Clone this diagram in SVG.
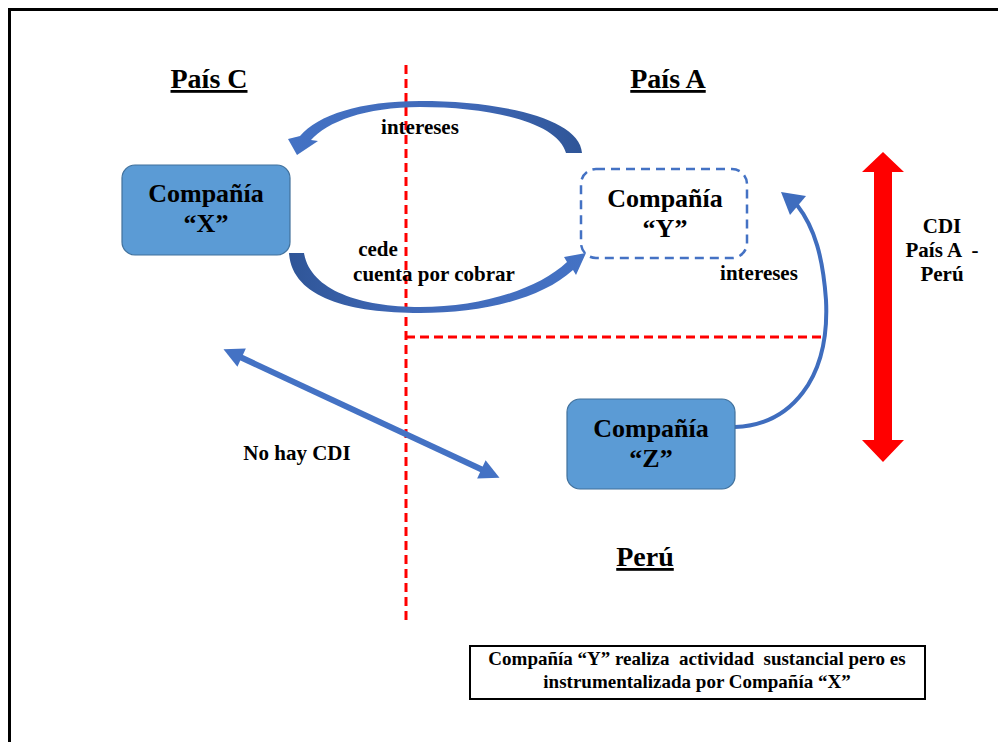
<svg xmlns="http://www.w3.org/2000/svg" width="998" height="742" viewBox="0 0 998 742">
<style>
  text { font-family: "Liberation Serif", "Times New Roman", serif; font-weight: bold; fill: #000; }
  .head { font-size: 28px; text-decoration: underline; }
  .box { font-size: 26px; }
  .lbl { font-size: 21px; }
  .note { font-size: 19px; white-space: pre; }
  .redline { stroke: #FF0000; stroke-width: 3; stroke-dasharray: 9 5; fill: none; }
  .solid { fill: #5B9BD5; stroke: #41719C; stroke-width: 1.2; }
</style>
<defs>
  <linearGradient id="gTop" x1="0" y1="0" x2="1" y2="0">
    <stop offset="0" stop-color="#4472C4"/>
    <stop offset="0.6" stop-color="#4069B8"/>
    <stop offset="1" stop-color="#2F5597"/>
  </linearGradient>
  <linearGradient id="gBot" x1="0" y1="0" x2="1" y2="0">
    <stop offset="0" stop-color="#2F5597"/>
    <stop offset="0.4" stop-color="#4069B8"/>
    <stop offset="1" stop-color="#4472C4"/>
  </linearGradient>
  <marker id="bh" viewBox="0 0 10 10" refX="2" refY="5" markerWidth="22" markerHeight="20" markerUnits="userSpaceOnUse" orient="auto-start-reverse">
    <path d="M0,0 L10,5 L0,10 Z" fill="#4472C4"/>
  </marker>
</defs>
<rect x="0" y="0" width="998" height="742" fill="#fff"/>
<rect x="9.5" y="9.5" width="1000" height="760" fill="none" stroke="#000" stroke-width="3"/>

<g id="dividers">
  <line class="redline" x1="406" y1="65" x2="406" y2="622"/>
  <line class="redline" x1="406" y1="337" x2="822" y2="337"/>
</g>

<g id="headings">
  <text class="head" x="209" y="88" text-anchor="middle">País C</text>
  <text class="head" x="668" y="88" text-anchor="middle">País A</text>
  <text class="head" x="645" y="566" text-anchor="middle">Perú</text>
</g>

<g id="connectors">
  <path id="arrow-intereses-top" fill="url(#gTop)" d="M582,153 C580,118 500,101 420,101 C360,101 318,115 300,136 L288,139 L297,155 L318,141 L311,140 C327,122 365,107 420,107 C490,107 558,122 566,153 Z"/>
  <path id="arrow-cede" fill="url(#gBot)" d="M289,253 C292,298 350,313 420,313 C480,313 540,300 573,270 L576,275 L586,253 L564,257 L567,262 C537,290 480,307 420,307 C360,307 310,290 304,253 Z"/>
  <path id="arrow-intereses-z" d="M735,427 C790,425 830,380 826,300 C823,258 815,228 797,205" fill="none" stroke="#3F6DBE" stroke-width="4"/>
  <polygon points="781,192 806,196 790,215" fill="#3F6DBE"/>
  <line id="arrow-nocdi" x1="238" y1="356" x2="485" y2="471" stroke="#4472C4" stroke-width="6" marker-start="url(#bh)" marker-end="url(#bh)"/>
  <polygon id="arrow-cdi" points="883,152 904,172 892,172 892,440 904,440 883,462 862,440 874,440 874,172 862,172" fill="#FF0000"/>
</g>

<g id="labels">
  <text class="lbl" x="420" y="134" text-anchor="middle">intereses</text>
  <text class="lbl" x="378" y="256" text-anchor="middle">cede</text>
  <text class="lbl" x="434" y="281" text-anchor="middle">cuenta por cobrar</text>
  <text class="lbl" x="759" y="280" text-anchor="middle">intereses</text>
  <text class="lbl" x="297" y="460" text-anchor="middle">No hay CDI</text>
  <text class="lbl" x="942" y="233" text-anchor="middle">CDI</text>
  <text class="lbl" x="942" y="257" text-anchor="middle" style="white-space:pre">País A  -</text>
  <text class="lbl" x="942" y="281" text-anchor="middle">Perú</text>
</g>

<g id="node-x">
  <rect class="solid" x="122" y="165" width="168" height="90" rx="13"/>
  <text class="box" x="206" y="202" text-anchor="middle">Compañía</text>
  <text class="box" x="206" y="232" text-anchor="middle">“X”</text>
</g>

<g id="node-y">
  <rect x="581" y="169" width="166" height="89" rx="15" fill="none" stroke="#4472C4" stroke-width="2.5" stroke-dasharray="9 6"/>
  <text class="box" x="665" y="207" text-anchor="middle">Compañía</text>
  <text class="box" x="665" y="237" text-anchor="middle">“Y”</text>
</g>

<g id="node-z">
  <rect class="solid" x="567" y="399" width="168" height="90" rx="13"/>
  <text class="box" x="651" y="437" text-anchor="middle">Compañía</text>
  <text class="box" x="651" y="467" text-anchor="middle">“Z”</text>
</g>

<g id="note">
  <rect x="470" y="646" width="455" height="53" fill="#fff" stroke="#000" stroke-width="2"/>
  <text class="note" x="697" y="665" text-anchor="middle">Compañía “Y” realiza  actividad  sustancial pero es</text>
  <text class="note" x="697" y="688" text-anchor="middle">instrumentalizada por Compañía “X”</text>
</g>
</svg>
